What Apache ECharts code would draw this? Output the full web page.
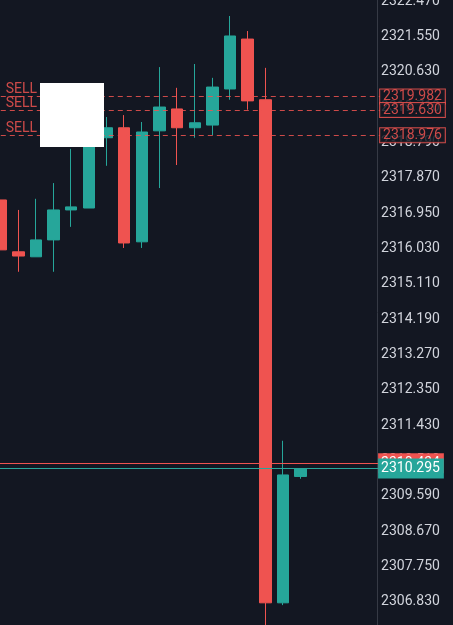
<!DOCTYPE html>
<html>
<head>
<meta charset="utf-8">
<script src="https://cdn.jsdelivr.net/npm/echarts@6/dist/echarts.min.js"></script>
<style>
  html, body { margin: 0; padding: 0; background: #131722; }
  #main { width: 453px; height: 625px; }
</style>
</head>
<body>
<div id="main"></div>
<script>
// candles, oldest first
var categories = ['1','2','3','4','5','6','7','8','9','10','11','12','13','14','15','16','17','18','19','20','21','22'];
var opens  = [2317.29, 2315.94, 2315.81, 2316.25, 2317.03, 2317.08, 2318.91, 2319.17, 2316.20, 2319.09, 2319.66, 2319.17, 2319.24, 2320.18, 2321.48, 2319.90, 2306.80, 2310.09];
var closes = [2315.99, 2315.83, 2316.25, 2317.03, 2317.11, 2318.98, 2319.17, 2316.17, 2319.06, 2319.71, 2319.17, 2319.30, 2320.23, 2321.56, 2319.87, 2306.80, 2310.13, 2310.295];
var lows   = [2315.99, 2315.42, 2315.81, 2315.42, 2316.59, 2317.08, 2318.18, 2316.04, 2316.04, 2317.60, 2318.20, 2318.91, 2318.98, 2319.90, 2319.64, 2305.95, 2306.74, 2310.03];
var highs  = [2317.29, 2317.03, 2317.32, 2317.73, 2318.62, 2319.24, 2319.45, 2319.50, 2319.32, 2320.75, 2320.21, 2320.83, 2320.47, 2322.08, 2321.69, 2320.73, 2311.02, 2310.295];

// order levels and price lines
var sellLevels = [2319.982, 2319.630, 2318.976];
var askPrice = 2310.434;
var lastPrice = 2310.295;

// y axis ticks
var yMin = 2305.91;
var yMax = 2323.39;
var yStep = 0.92;

var up = '#26a69a', down = '#ef5350';

var candles = opens.map(function (o, i) {
    return [o, closes[i], lows[i], highs[i]];
});

var lines = [];
sellLevels.forEach(function (v) {
    lines.push({
        yAxis: v,
        lineStyle: { type: [5, 4], color: down, width: 1, opacity: 0.85 },
        label: {
            show: true, position: 'end', distance: 0,
            formatter: function (p) { return p.value.toFixed(3); },
            color: down, fontSize: 14, fontFamily: 'Roboto', lineHeight: 14,
            backgroundColor: '#131722', borderColor: down, borderWidth: 1,
            padding: [0, 3, 0, 3]
        }
    });
    // left side "SELL" tag, line itself invisible
    lines.push({
        yAxis: v,
        lineStyle: { color: 'rgba(0,0,0,0)', width: 1 },
        label: {
            show: true, position: 'insideStartTop', distance: [14, 0],
            formatter: 'SELL', color: 'rgba(239,83,80,0.85)', fontSize: 14, fontFamily: 'Roboto'
        }
    });
});
lines.push({
    yAxis: askPrice,
    lineStyle: { type: 'solid', color: down, width: 1 },
    label: {
        show: true, position: 'end', distance: -2,
        formatter: function (p) { return p.value.toFixed(3); },
        color: '#fff', fontSize: 14, fontFamily: 'Roboto', lineHeight: 14,
        backgroundColor: down, padding: [3, 4, 3, 3]
    }
});
lines.push({
    yAxis: lastPrice,
    lineStyle: { type: 'solid', color: up, width: 1 },
    label: {
        show: true, position: 'end', distance: -2,
        formatter: function (p) { return p.value.toFixed(3); },
        color: '#fff', fontSize: 14, fontFamily: 'Roboto', lineHeight: 14,
        backgroundColor: up, padding: [3, 4, 3, 3]
    }
});

var myChart = echarts.init(document.getElementById('main'));
var option = {
    backgroundColor: '#131722',
    animation: false,
    grid: {
        left: -8.2, right: 72.9, top: -34.3, bottom: -12,
        outerBoundsMode: 'none', containLabel: false
    },
    xAxis: {
        type: 'category',
        data: categories,
        boundaryGap: true,
        show: false
    },
    yAxis: {
        type: 'value',
        position: 'right',
        offset: -3,
        min: yMin,
        max: yMax,
        interval: yStep,
        axisLine: { show: true, lineStyle: { color: '#363a45' } },
        axisTick: { show: false },
        splitLine: { show: false },
        axisLabel: {
            color: '#d1d4dc', fontSize: 14, fontFamily: 'Roboto', margin: 4,
            formatter: function (v) { return v.toFixed(3); }
        }
    },
    series: [{
        type: 'candlestick',
        data: candles,
        barWidth: 12,
        itemStyle: {
            color: up, color0: down,
            borderColor: up, borderColor0: down,
            borderWidth: 1
        },
        markLine: {
            symbol: ['none', 'none'],
            precision: 3,
            silent: true,
            animation: false,
            data: lines
        }
    }],
    graphic: [{
        type: 'rect',
        left: 40, top: 83,
        shape: { width: 64, height: 64 },
        style: { fill: '#ffffff' },
        z: 100
    }]
};

option && myChart.setOption(option);
</script>
</body>
</html>
